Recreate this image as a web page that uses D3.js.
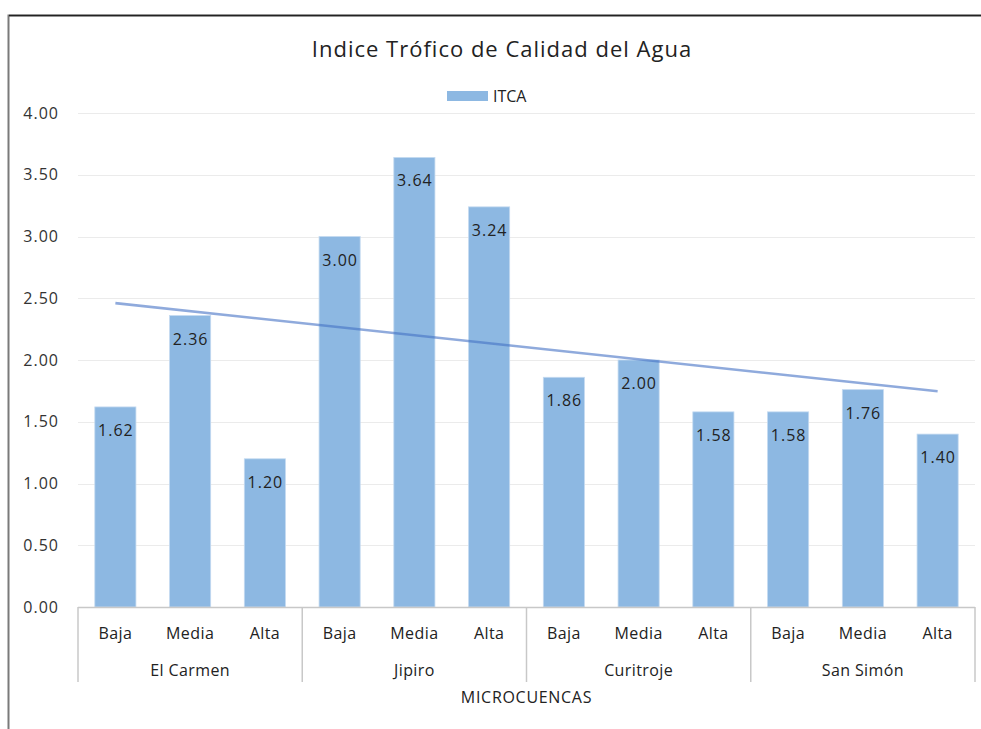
<!DOCTYPE html>
<html><head><meta charset="utf-8">
<script src="https://cdn.jsdelivr.net/npm/d3@7"></script>
<style>body{margin:0;background:#fff;} svg{display:block;font-family:"Open Sans", sans-serif;}</style>
</head><body>
<svg id="c" width="981" height="729"></svg>
<script>
const groups = ["El Carmen","Jipiro","Curitroje","San Simón"];
const levels = ["Baja","Media","Alta"];
const values = [1.62,2.36,1.20, 3.00,3.64,3.24, 1.86,2.00,1.58, 1.58,1.76,1.40];
const yTicks = [0,0.5,1,1.5,2,2.5,3,3.5,4];
const seriesName = "ITCA";
const title = "Indice Trófico de Calidad del Agua";
const axisTitle = "MICROCUENCAS";

const data = [];
groups.forEach((g,gi)=>levels.forEach((l,li)=>data.push({key:g+"|"+l, group:g, level:l, v:values[gi*3+li]})));

const svg = d3.select("#c");
const L=78, R=975, T=113, B=607;
const x = d3.scaleBand().domain(data.map(d=>d.key)).range([L,R]).paddingInner(0.45).paddingOuter(0.225);
const y = d3.scaleLinear().domain([0,4]).range([B,T]);

// chart border
svg.append("path").attr("d","M8.5,729 V15.5 H981").attr("fill","none").attr("stroke","#7a7a7a").attr("stroke-width",2);
svg.append("line").attr("x1",9).attr("x2",981).attr("y1",15.5).attr("y2",15.5).attr("stroke","#222").attr("stroke-width",1.5);

// gridlines
svg.append("g").selectAll("line").data(yTicks.filter(t=>t>0)).join("line")
  .attr("x1",L).attr("x2",R).attr("y1",d=>Math.round(y(d))+0.5).attr("y2",d=>Math.round(y(d))+0.5)
  .attr("stroke","#ebebeb").attr("stroke-width",1.2);

// y labels
const yAxis = d3.axisLeft(y).tickValues(yTicks).tickFormat(d3.format(".2f")).tickSize(0).tickPadding(0);
const ga = svg.append("g").attr("transform","translate(59,0)").call(yAxis);
ga.select(".domain").remove();
ga.selectAll("text").attr("font-size",16).attr("letter-spacing","1px").attr("fill","#333").attr("font-family","'Open Sans', sans-serif");

// bars
svg.append("g").selectAll("rect").data(data).join("rect")
  .attr("x",d=>x(d.key)).attr("width",x.bandwidth())
  .attr("y",d=>y(d.v)).attr("height",d=>y(0)-y(d.v))
  .attr("fill","#8db8e2").attr("stroke","#c4daf0").attr("stroke-width",0.8);

// value labels
svg.append("g").selectAll("text").data(data).join("text")
  .attr("x",d=>x(d.key)+x.bandwidth()/2+0.5).attr("y",d=>y(d.v)+29)
  .attr("text-anchor","middle").attr("font-size",16).attr("letter-spacing","1px").attr("fill","#222")
  .text(d=>d3.format(".2f")(d.v));

// linear trend
const n = values.length;
const xs = d3.range(1,n+1);
const mx = d3.mean(xs), my = d3.mean(values);
const slope = d3.sum(xs.map((xi,i)=>(xi-mx)*(values[i]-my)))/d3.sum(xs.map(xi=>(xi-mx)**2));
const icpt = my - slope*mx;
const cx = i=>x(data[i].key)+x.bandwidth()/2;
svg.append("line")
  .attr("x1",cx(0)).attr("y1",y(icpt+slope*1))
  .attr("x2",cx(n-1)).attr("y2",y(icpt+slope*n))
  .attr("stroke","#4472c4").attr("stroke-opacity",0.6).attr("stroke-width",2.6);

// x axis line
svg.append("line").attr("x1",L).attr("x2",R).attr("y1",B+0.5).attr("y2",B+0.5).attr("stroke","#c8c8c8").attr("stroke-width",1.5);
// group separators
const gw = (R-L)/groups.length;
const seps = d3.range(groups.length+1).map(i=>L+i*gw);
svg.append("g").selectAll("line").data(seps).join("line")
  .attr("x1",d=>d).attr("x2",d=>d).attr("y1",B).attr("y2",682)
  .attr("stroke","#c8c8c8").attr("stroke-width",1.5);

// level labels
svg.append("g").selectAll("text").data(data).join("text")
  .attr("x",d=>x(d.key)+x.bandwidth()/2).attr("y",639)
  .attr("text-anchor","middle").attr("font-size",16).attr("letter-spacing","0.4px").attr("fill","#222").text(d=>d.level);
// group labels
svg.append("g").selectAll("text").data(groups).join("text")
  .attr("x",(d,i)=>L+gw*(i+0.5)).attr("y",676)
  .attr("text-anchor","middle").attr("font-size",16).attr("letter-spacing","0.4px").attr("fill","#222").text(d=>d);
// axis title
svg.append("text").attr("x",(L+R)/2).attr("y",703).attr("text-anchor","middle").attr("font-size",16).attr("letter-spacing","0.7px").attr("fill","#222").text(axisTitle);

// title
svg.append("text").attr("x",502).attr("y",57).attr("text-anchor","middle").attr("font-size",22).attr("letter-spacing","1px").attr("fill","#222").text(title);

// legend
svg.append("rect").attr("x",447).attr("y",91).attr("width",41).attr("height",10).attr("fill","#8db8e2");
svg.append("text").attr("x",493).attr("y",102).attr("font-size",16).attr("fill","#222").text(seriesName);
</script>
</body></html>
